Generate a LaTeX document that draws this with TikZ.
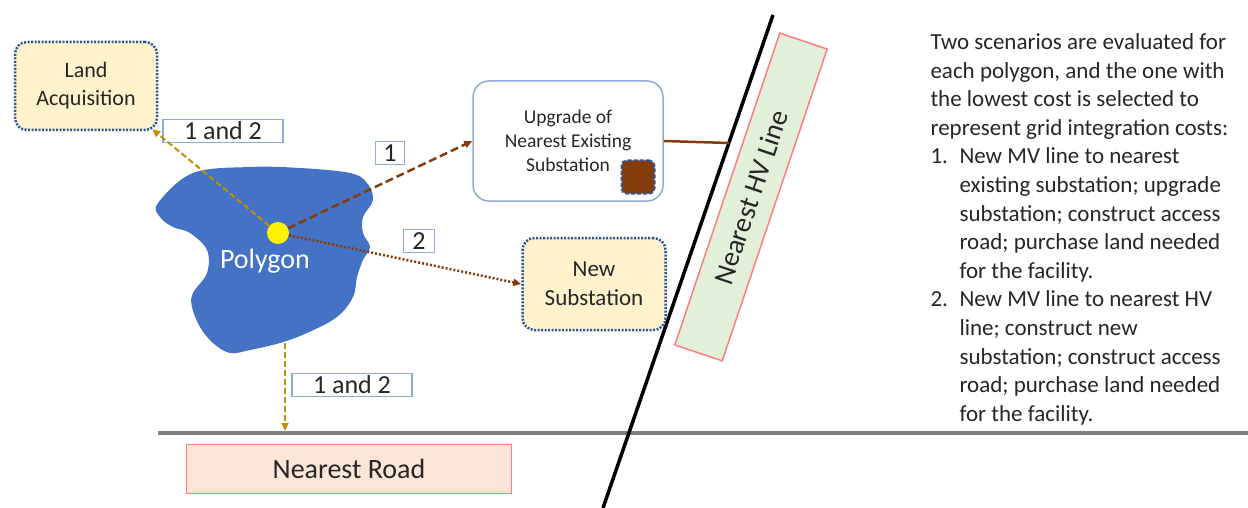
\documentclass[tikz,border=0pt]{standalone}
\usepackage{fontspec}
\setmainfont{Carlito}
\usetikzlibrary{arrows.meta,calc}

\definecolor{polyblue}{HTML}{4472C4}
\definecolor{goldln}{HTML}{BF9000}
\definecolor{brownln}{HTML}{843C0C}
\definecolor{paleyellow}{HTML}{FFF2CC}
\definecolor{dotblue}{HTML}{2F5597}
\definecolor{lblue}{HTML}{8FAADC}
\definecolor{roadfill}{HTML}{FBE5D6}
\definecolor{redln}{HTML}{FF7C80}
\definecolor{hvfill}{HTML}{E2F0D9}
\definecolor{txtgray}{HTML}{262626}

\tikzset{
  dotbox/.style={draw=dotblue, line width=2.5pt, dash pattern=on 2pt off 1.5pt,
    fill=paleyellow, rounded corners=12pt, align=center, text=txtgray},
  numbox/.style={draw=lblue, line width=1.2pt, fill=white, inner sep=0pt,
    minimum height=23pt, text=txtgray, font=\fontsize{26}{26}\selectfont},
  tip/.style={-{Triangle[length=8pt,width=7pt]}}
}

\begin{document}
\begin{tikzpicture}[x=1pt,y=-1pt]
  \useasboundingbox (0,0) rectangle (1248,508);

  % road and hv line
  \coordinate (roadL) at (158,433);
  \coordinate (roadR) at (1248,433);
  \coordinate (hvtop) at (773,15);
  \coordinate (hvbot) at (603,508);
  \draw [line width=4pt, gray] (roadL) -- (roadR);
  \draw [line width=3.5pt] (hvtop) -- (hvbot);

  \node (road) at (349,469) [draw=redln, line width=1.5pt, fill=roadfill,
    minimum width=325pt, minimum height=49pt, text=txtgray,
    font=\fontsize{28}{28}\selectfont] {Nearest Road};
  \node (hv) at (751,197) [rotate=71.4, draw=redln, line width=1.5pt, fill=hvfill,
    minimum width=329pt, minimum height=50pt, text=txtgray,
    font=\fontsize{28}{28}\selectfont] {Nearest HV Line};

  % polygon
  \fill [polyblue] plot [smooth cycle, tension=0.6] coordinates {
    (158,203) (193,173) (250,167) (300,168) (350,173) (367,183) (373,200)
    (363,217) (363,233) (370,247) (363,260) (357,277) (353,297) (337,317)
    (307,333) (280,343) (250,350) (230,353) (213,343) (200,327) (192,307)
    (193,293) (207,273) (207,250) (190,233) (173,227) (160,217)};
  \node (polytxt) at (265,261) [white, font=\fontsize{28}{28}\selectfont] {Polygon};
  \node (dot) at (278,233) [circle, fill=yellow, inner sep=0pt, minimum size=22pt] {};

  % boxes
  \node (land) at (86,86) [dotbox, minimum width=142pt, minimum height=88pt,
    font=\fontsize{22}{28}\selectfont] {Land\\Acquisition};
  \node (up) at (568,141) [draw=lblue, line width=1.5pt, rounded corners=16pt,
    minimum width=190pt, minimum height=120pt] {};
  \node (uptxt) at (568,141) [align=center, text=txtgray,
    font=\fontsize{19.5}{24}\selectfont] {Upgrade of\\Nearest Existing\\Substation};
  \node (sq) at (638,177) [draw=dotblue, line width=2pt, dash pattern=on 4pt off 2pt,
    fill=brownln, rounded corners=5pt, minimum size=33pt] {};
  \node (new) at (594,284) [dotbox, minimum width=143pt, minimum height=92pt,
    font=\fontsize{23}{29}\selectfont] {New\\Substation};

  % labels
  \node (lab12a) at (223,131) [numbox, minimum width=120pt] {1 and 2};
  \node (lab1) at (390,153) [numbox, minimum width=29pt] {1};
  \node (lab2) at (419,241) [numbox, minimum width=31pt] {2};
  \node (lab12b) at (352,385) [numbox, minimum width=120pt] {1 and 2};

  % connectors
  \coordinate (pb) at (285,343);
  \coordinate (rp) at (285,431);
  \coordinate (hvpt) at (729,143);
  \draw [tip, goldln, line width=2pt, dash pattern=on 6pt off 3pt] (dot) -- ($(land.south east)+(-6,-2)$);
  \draw [tip, goldln, line width=2pt, dash pattern=on 6pt off 3pt] (pb) -- (rp);
  \draw [tip, brownln, line width=2.5pt, dash pattern=on 8pt off 4pt] (dot) -- (up.west);
  \draw [tip, brownln, line width=2.5pt, dash pattern=on 2pt off 2pt] (dot) -- (new.west);
  \draw [brownln, line width=2.5pt] (up.east) -- (hvpt);

  % scenario text
  \node (notes) at (927,30) [anchor=north west, align=left, text=txtgray,
    font=\fontsize{23}{28.6}\selectfont] {Two scenarios are evaluated for\\
    each polygon, and the one with\\
    the lowest cost is selected to\\
    represent grid integration costs:\\
    \makebox[29pt][l]{1.}New MV line to nearest\\
    \hspace*{29pt}existing substation; upgrade\\
    \hspace*{29pt}substation; construct access\\
    \hspace*{29pt}road; purchase land needed\\
    \hspace*{29pt}for the facility.\\
    \makebox[29pt][l]{2.}New MV line to nearest HV\\
    \hspace*{29pt}line; construct new\\
    \hspace*{29pt}substation; construct access\\
    \hspace*{29pt}road; purchase land needed\\
    \hspace*{29pt}for the facility.};
\end{tikzpicture}
\end{document}
